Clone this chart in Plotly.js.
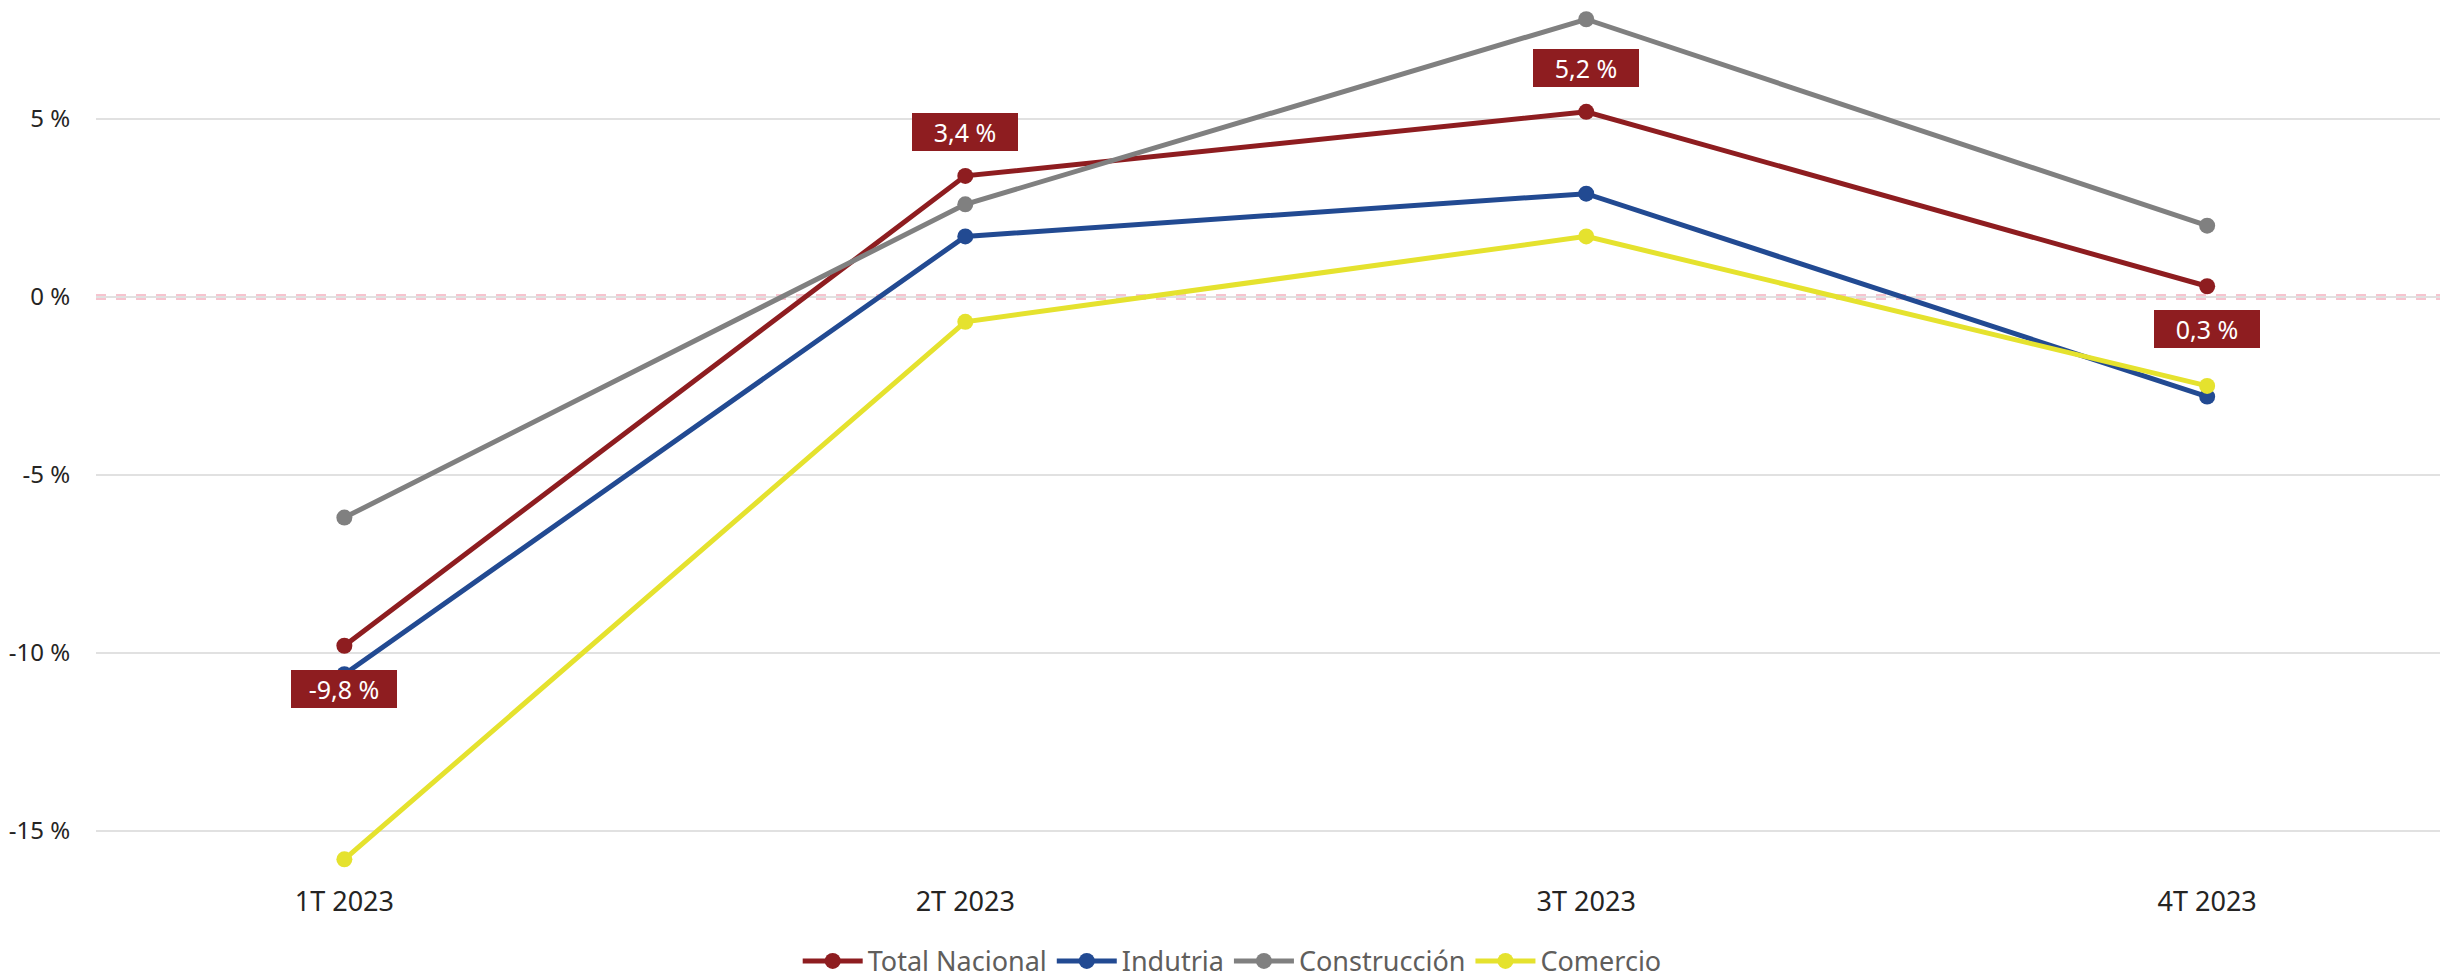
<!DOCTYPE html>
<html>
<head>
<meta charset="utf-8">
<script src="https://cdn.plot.ly/plotly-3.0.1.min.js"></script>
<style>html,body{margin:0;padding:0;background:#fff;}#chart{width:2440px;height:978px;}</style>
</head>
<body>
<div id="chart"></div>
<script>
const categories = ["1T 2023", "2T 2023", "3T 2023", "4T 2023"];
const totalNacional = [-9.8, 3.4, 5.2, 0.3];
const industria = [-10.6, 1.7, 2.9, -2.8];
const construccion = [-6.2, 2.6, 7.8, 2.0];
const comercio = [-15.8, -0.7, 1.7, -2.5];
const totalLabels = ["-9,8 %", "3,4 %", "5,2 %", "0,3 %"];
const labelBelow = [true, false, false, true];
const yTickVals = [-15, -10, -5, 0, 5];
const yTickText = ["-15 %", "-10 %", "-5 %", "0 %", "5 %"];

const FONT = "Noto Sans, Open Sans, sans-serif";
function series(name, y, color) {
  return {
    type: "scatter", mode: "lines+markers", name: name,
    x: categories, y: y,
    line: {color: color, width: 5},
    marker: {color: color, size: 16},
    hoverinfo: "skip", cliponaxis: false
  };
}
const data = [
  series("Total Nacional", totalNacional, "#8E1D20"),
  series("Indutria", industria, "#224A92"),
  series("Construcción", construccion, "#808080"),
  series("Comercio", comercio, "#E5E22E")
];
const annotations = categories.map((c, i) => ({
  x: c, y: totalNacional[i], xref: "x", yref: "y",
  text: totalLabels[i], showarrow: false,
  yshift: labelBelow[i] ? -43 : 44,
  width: 98, height: 30,
  bgcolor: "#8E1D20", borderpad: 4, borderwidth: 0,
  font: {family: FONT, size: 25, color: "#ffffff"}
}));
const layout = {
  width: 2440, height: 978,
  margin: {l: 96, r: 0, t: 10, b: 108},
  paper_bgcolor: "#ffffff", plot_bgcolor: "#ffffff",
  showlegend: true,
  legend: {
    orientation: "h", xref: "container", yref: "container",
    x: 0.505, xanchor: "center", y: 0.017, yanchor: "middle",
    font: {family: FONT, size: 27, color: "#605E5C"},
    itemwidth: 60, traceorder: "normal"
  },
  xaxis: {
    type: "category", range: [-0.4, 3.375],
    showgrid: false, zeroline: false, showline: false,
    ticks: "outside", ticklen: 8, tickcolor: "rgba(0,0,0,0)",
    tickfont: {family: FONT, size: 27, color: "#252423"}
  },
  yaxis: {
    range: [-16.1, 8.06],
    tickvals: yTickVals, ticktext: yTickText,
    showgrid: true, gridcolor: "#E1E1E1", gridwidth: 1.5,
    zeroline: false, showline: false,
    ticks: "outside", ticklen: 20, tickcolor: "rgba(0,0,0,0)",
    tickfont: {family: FONT, size: 24, color: "#252423"}
  },
  shapes: [{
    type: "line", xref: "x domain", x0: 0, x1: 1, yref: "y", y0: 0, y1: 0,
    line: {color: "#F6C4CF", width: 6, dash: "10px,10px"},
    layer: "below"
  }],
  annotations: annotations,
  hovermode: false
};
Plotly.newPlot("chart", data, layout, {displayModeBar: false, staticPlot: true});
</script>
</body>
</html>
